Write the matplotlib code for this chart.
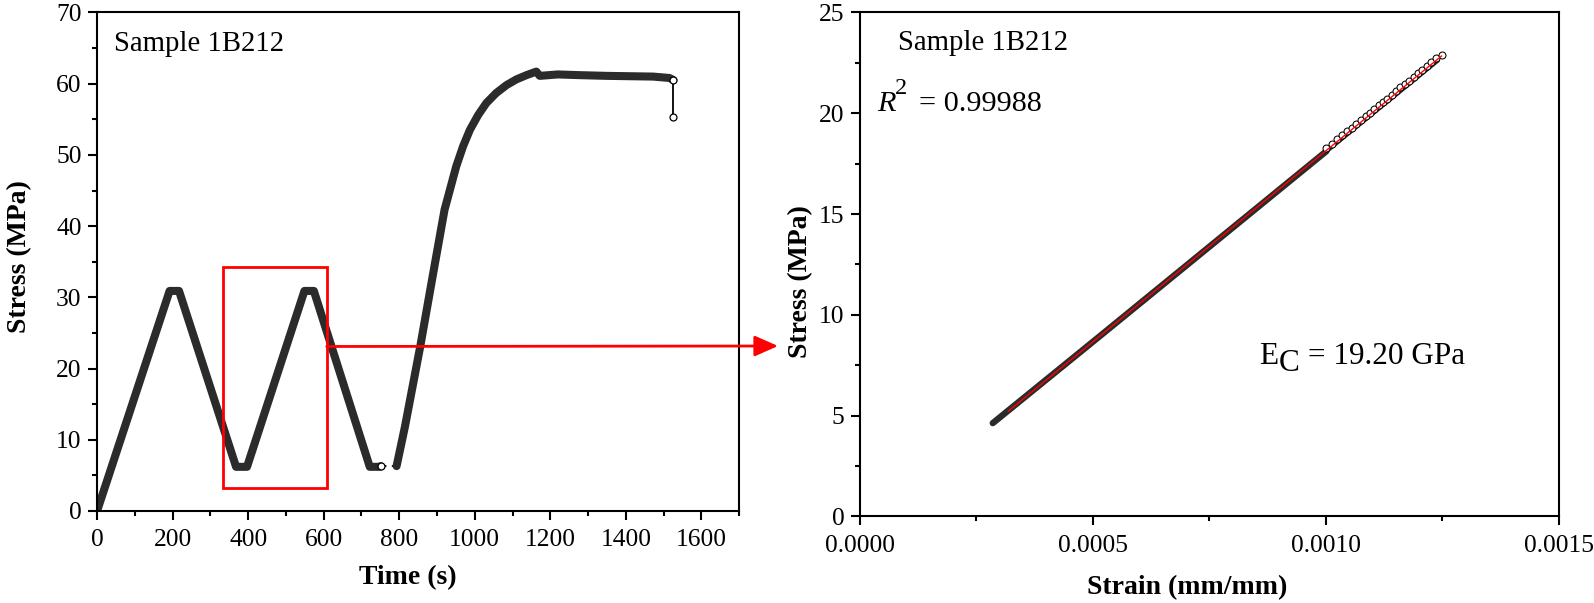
import matplotlib
matplotlib.use('Agg')
import matplotlib.pyplot as plt
from matplotlib.patches import Rectangle
from matplotlib.ticker import MultipleLocator, FormatStrFormatter
from matplotlib.transforms import offset_copy

plt.rcParams['font.family'] = 'Liberation Serif'

# --- left panel: stress history ---
time_cycle = [0, 192, 217, 368, 397, 549, 574, 722, 748, 751]
stress_cycle = [0.0, 30.9, 30.9, 6.2, 6.2, 30.9, 30.9, 6.2, 6.2, 6.3]
time_gap = [751, 793]
stress_gap = [6.3, 6.3]
time_load = [793, 815, 856, 890, 920, 951, 969, 987, 1009, 1031, 1057, 1084,
             1110, 1137, 1163, 1172, 1220, 1278, 1350, 1472, 1516, 1526]
stress_load = [6.3, 11.8, 23.2, 33.4, 42.3, 48.4, 51.2, 53.5, 55.6, 57.3, 58.7,
               59.8, 60.6, 61.2, 61.7, 61.1, 61.3, 61.2, 61.1, 61.0, 60.8, 60.5]
time_end = [1526, 1526]
stress_end = [60.5, 55.3]
time_open = [751, 1526, 1526]
stress_open = [6.3, 60.5, 55.3]

# zoom box on the left panel
box_time = [333, 608]
box_stress = [3.2, 34.2]
arrow_stress = 23.1

# --- right panel: stress-strain, linear fit ---
strain_band = [0.000285, 0.000515, 0.001001]
stress_band = [4.63, 8.95, 18.12]
strain_band_top = [0.001001, 0.001240]
stress_band_top = [18.12, 22.62]
strain_open = [0.001001, 0.001013, 0.001024, 0.001035, 0.001045, 0.001055,
               0.001065, 0.001075, 0.001085, 0.001094, 0.001104, 0.001113,
               0.001122, 0.001131, 0.001141, 0.001150, 0.001160, 0.001169,
               0.001178, 0.001188, 0.001197, 0.001207, 0.001217, 0.001226,
               0.001236, 0.001248]
stress_open_r = [18.27, 18.50, 18.71, 18.92, 19.10, 19.29, 19.48, 19.67,
                 19.86, 20.03, 20.22, 20.39, 20.56, 20.73, 20.92, 21.09,
                 21.28, 21.45, 21.62, 21.81, 21.98, 22.17, 22.36, 22.53,
                 22.72, 22.90]
fit_strain = [0.000318, 0.001248]
fit_stress = [5.22, 22.84]

band = '#2b2b2b'
tick_fs = 18.4
label_fs = 20

fig = plt.figure(figsize=(15.94, 6.03), dpi=100)
ax1 = fig.add_axes([0.0609, 0.1526, 0.4028, 0.8267])
ax2 = fig.add_axes([0.5395, 0.1435, 0.4385, 0.8358])

for ax in (ax1, ax2):
    for s in ax.spines.values():
        s.set_linewidth(1.5)
    ax.tick_params(which='both', direction='out', width=1.5, labelsize=tick_fs)
    ax.tick_params(which='major', length=6.2)
    ax.tick_params(which='minor', length=3.5)
    ax.tick_params(axis='x', pad=7)
    ax.tick_params(axis='y', pad=5)

# left
ax1.plot(time_cycle, stress_cycle, color=band, lw=5.8, solid_joinstyle='round',
         solid_capstyle='round')
ax1.plot(time_gap, stress_gap, color='black', lw=1.3, ls=(0, (3, 3)))
ax1.plot(time_load, stress_load, color=band, lw=5.8, solid_joinstyle='round',
         solid_capstyle='round')
ax1.plot(time_end, stress_end, color='black', lw=1.3)
ax1.plot(time_open, stress_open, ls='none', marker='o', ms=5, mfc='white',
         mec='black', mew=0.9)
ax1.add_patch(Rectangle((box_time[0], box_stress[0]), box_time[1] - box_time[0],
                        box_stress[1] - box_stress[0], fill=False,
                        ec='red', lw=2, zorder=5))
ax1.set_xlim(0, 1700)
ax1.set_ylim(0, 70)
ax1.xaxis.set_major_locator(MultipleLocator(200))
ax1.xaxis.set_minor_locator(MultipleLocator(100))
ax1.yaxis.set_major_locator(MultipleLocator(10))
ax1.yaxis.set_minor_locator(MultipleLocator(5))
ax1.set_xlabel('Time (s)', fontsize=label_fs, fontweight='bold', labelpad=10)
ax1.set_ylabel('Stress (MPa)', fontsize=label_fs, fontweight='bold', labelpad=17)
ax1.xaxis.label.set_x(0.484)
ax1.yaxis.label.set_y(0.511)
ax1.text(45, 64.6, 'Sample 1B212', fontsize=20.7, va='baseline')

# arrow from the box to the right panel
ax1.annotate('', xy=(778, 257), xycoords='figure pixels',
             xytext=(box_time[1], arrow_stress), textcoords='data',
             arrowprops=dict(arrowstyle='-|>,head_length=0.95,head_width=0.42',
                             color='red', lw=2, shrinkA=0, shrinkB=0,
                             mutation_scale=15),
             annotation_clip=False)

# right
ax2.plot(strain_band, stress_band, color=band, lw=4.6, solid_capstyle='round')
ax2.plot(strain_band_top, stress_band_top, color=band, lw=3.2, solid_capstyle='round')
ax2.plot(strain_open, stress_open_r, ls='none', marker='o', ms=5, mfc='white',
         mec='black', mew=0.75)
ax2.plot(fit_strain, fit_stress, color='red', lw=1.0)
ax2.set_xlim(0, 0.0015)
ax2.set_ylim(0, 25)
ax2.xaxis.set_major_locator(MultipleLocator(0.0005))
ax2.xaxis.set_minor_locator(MultipleLocator(0.00025))
ax2.xaxis.set_major_formatter(FormatStrFormatter('%.4f'))
ax2.yaxis.set_major_locator(MultipleLocator(5))
ax2.yaxis.set_minor_locator(MultipleLocator(2.5))
ax2.set_xlabel('Strain (mm/mm)', fontsize=label_fs, fontweight='bold', labelpad=13)
ax2.set_ylabel('Stress (MPa)', fontsize=label_fs, fontweight='bold', labelpad=4)
ax2.xaxis.label.set_x(0.468)
ax2.yaxis.label.set_y(0.467)
ax2.text(0.0000809, 23.14, 'Sample 1B212', fontsize=20.7, va='baseline')

rx, ry = 0.0000371, 20.13
ax2.text(rx, ry, 'R', fontsize=21.8, fontstyle='italic', va='baseline')
ax2.text(rx, ry, '2', fontsize=17.5, va='baseline',
         transform=offset_copy(ax2.transData, fig=fig, x=18, y=17, units='dots'))
ax2.text(rx, ry, '= 0.99988', fontsize=21.8, va='baseline',
         transform=offset_copy(ax2.transData, fig=fig, x=42, y=0, units='dots'))

ex, ey = 0.000857, 7.55
ax2.text(ex, ey, 'E', fontsize=22.5, va='baseline')
ax2.text(ex, ey, 'C', fontsize=22.5, va='baseline',
         transform=offset_copy(ax2.transData, fig=fig, x=19, y=-7, units='dots'))
ax2.text(ex, ey, '= 19.20 GPa', fontsize=22.5, va='baseline',
         transform=offset_copy(ax2.transData, fig=fig, x=49, y=0, units='dots'))

fig.savefig('out.png', dpi=100)
